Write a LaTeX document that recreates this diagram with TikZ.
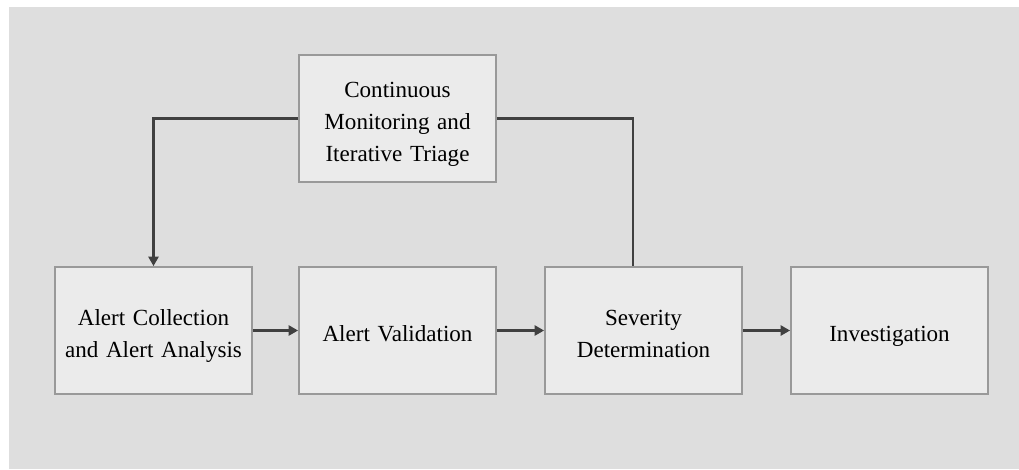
\documentclass[tikz,border=0pt]{standalone}
\usepackage{fontspec}
\setmainfont{Liberation Serif}
\usetikzlibrary{arrows.meta,calc}
\definecolor{bgc}{HTML}{DEDEDE}
\definecolor{boxfill}{HTML}{EBEBEB}
\definecolor{boxline}{HTML}{999999}
\definecolor{conn}{HTML}{404040}
\tikzset{
  stepbox/.style={draw=boxline, fill=boxfill, line width=1.4pt,
    minimum width=147.75pt, minimum height=95.25pt, inner sep=0pt,
    align=center, text width=140pt, text height=15.75pt, text depth=0pt,
    font=\fontsize{17.3pt}{24pt}\selectfont},
  twolines/.style={text depth=24pt},
  threelines/.style={text depth=48pt},
  conline/.style={draw=conn, line width=1.6pt},
  arr/.style={conline, -{Triangle[length=7pt,width=7.5pt]}}
}
\begin{document}
\begin{tikzpicture}[x=0.75pt,y=-0.75pt]
\useasboundingbox (0,0) rectangle (1019,469);
\fill[bgc] (9,7) rectangle (1019,469);
\node[stepbox,threelines] (top) at (397.5,118.5) {Continuous\\Monitoring and\\Iterative Triage};
\node[stepbox,twolines] (b1) at (153.5,330.5) {Alert Collection\\and Alert Analysis};
\node[stepbox] (b2) at (397.5,330.5) {Alert Validation};
\node[stepbox,twolines] (b3) at (643.5,330.5) {Severity\\Determination};
\node[stepbox] (b4) at (889.5,330.5) {Investigation};
\draw[arr] (top.west) -| (b1.north);
\draw[conline] (top.east) -| ([xshift=-7.9pt]b3.north);
\draw[arr] (b1.east) -- (b2.west);
\draw[arr] (b2.east) -- (b3.west);
\draw[arr] (b3.east) -- (b4.west);
\end{tikzpicture}
\end{document}
